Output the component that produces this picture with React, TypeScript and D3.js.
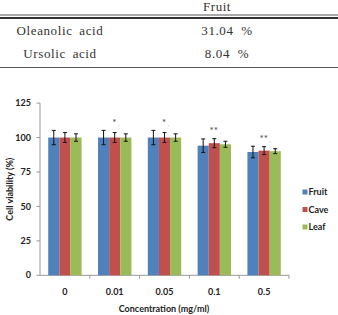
import React, { useEffect, useRef } from "react";
import * as d3 from "d3";

// compound content (fruit)
const compounds = ["Oleanolic acid", "Ursolic acid"];
const contents = ["31.04  %", "8.04  %"];

// cell viability by extract concentration
const concentrations = ["0", "0.01", "0.05", "0.1", "0.5"];
const parts = ["Fruit", "Cave", "Leaf"];
const fruitMean = [100, 100, 100, 94.1, 89.5];
const caveMean = [100, 100, 100, 95.9, 90.5];
const leafMean = [100, 100, 100, 95.1, 90.1];
const fruitErr = [5.2, 5.2, 5.2, 4.9, 4.2];
const caveErr = [3.6, 3.6, 3.6, 3.3, 2.9];
const leafErr = [2.7, 2.7, 2.7, 2.2, 1.8];
const stars = ["", "*", "*", "**", "**"];
const yTicks = [0, 25, 50, 75, 100, 125];
const colors = ["#4f81bd", "#c0504d", "#9bbb59"];

const App = () => {
  const ref = useRef<SVGSVGElement>(null);

  useEffect(() => {
    const svg = d3.select(ref.current);
    svg.selectAll("*").remove();

    // ---- table ----
    const serif = "'Liberation Serif', 'DejaVu Serif', serif";
    const tbl = svg.append("g").attr("font-family", serif).attr("fill", "#333").attr("font-size", 13);
    tbl.append("text").attr("x", 217).attr("y", 10.5).attr("text-anchor", "middle").attr("letter-spacing", 0.5).text("Fruit");
    tbl.append("line").attr("x1", 0).attr("x2", 338).attr("y1", 15).attr("y2", 15).attr("stroke", "#555").attr("stroke-width", 1);
    tbl.append("line").attr("x1", 0).attr("x2", 338).attr("y1", 18).attr("y2", 18).attr("stroke", "#333").attr("stroke-width", 2);
    tbl.append("line").attr("x1", 0).attr("x2", 338).attr("y1", 67.5).attr("y2", 67.5).attr("stroke", "#555").attr("stroke-width", 1);
    const rowY = [35, 58];
    compounds.forEach((c, i) => {
      tbl.append("text").attr("x", 60).attr("y", rowY[i]).attr("text-anchor", "middle")
        .attr("letter-spacing", 0.6).attr("word-spacing", 3).text(c);
      tbl.append("text").attr("x", 227).attr("y", rowY[i]).attr("text-anchor", "middle")
        .attr("letter-spacing", 0.6).style("white-space", "pre").text(contents[i]);
    });

    // ---- bar chart ----
    const sans = "Lato, 'Open Sans', sans-serif";
    const fs = 9;
    const left = 40, right = 289, top = 103.1, bottom = 275.3;
    const means = [fruitMean, caveMean, leafMean];
    const errs = [fruitErr, caveErr, leafErr];

    const x0 = d3.scaleBand().domain(concentrations).range([left, right]).paddingInner(0.33).paddingOuter(0.165);
    const x1 = d3.scaleBand().domain(parts).range([0, x0.bandwidth()]).padding(0);
    const y = d3.scaleLinear().domain([0, 125]).range([bottom, top]);

    const g = svg.append("g").attr("font-family", sans).attr("font-weight", "bold").attr("fill", "#222");

    // axes
    g.append("line").attr("x1", left).attr("x2", left).attr("y1", top).attr("y2", bottom).attr("stroke", "#999");
    g.append("line").attr("x1", left).attr("x2", right).attr("y1", bottom).attr("y2", bottom).attr("stroke", "#999");
    yTicks.forEach((t) => {
      g.append("line").attr("x1", left - 3.5).attr("x2", left).attr("y1", y(t)).attr("y2", y(t)).attr("stroke", "#999");
      g.append("text").attr("x", 31).attr("y", y(t)).attr("dy", "0.35em").attr("text-anchor", "end")
        .attr("font-size", fs).text(t);
    });
    const step = x0.step();
    concentrations.forEach((c) => {
      const xb = (x0(c) as number) + x0.bandwidth() / 2 + step / 2;
      g.append("line").attr("x1", xb).attr("x2", xb).attr("y1", bottom).attr("y2", bottom + 3.5).attr("stroke", "#999");
      g.append("text").attr("x", (x0(c) as number) + x0.bandwidth() / 2).attr("y", 294.5)
        .attr("text-anchor", "middle").attr("font-size", fs).text(c);
    });

    // bars and error bars
    parts.forEach((p, si) => {
      concentrations.forEach((c, ci) => {
        const bx = (x0(c) as number) + (x1(p) as number);
        const v = means[si][ci];
        g.append("rect").attr("x", bx).attr("y", y(v)).attr("width", x1.bandwidth())
          .attr("height", bottom - y(v)).attr("fill", colors[si]);
        const cx = bx + x1.bandwidth() / 2;
        const e = errs[si][ci];
        const eb = g.append("g").attr("stroke", "#111").attr("stroke-width", 1);
        eb.append("line").attr("x1", cx).attr("x2", cx).attr("y1", y(v + e)).attr("y2", y(v - e));
        eb.append("line").attr("x1", cx - 2).attr("x2", cx + 2).attr("y1", y(v + e)).attr("y2", y(v + e));
        eb.append("line").attr("x1", cx - 2).attr("x2", cx + 2).attr("y1", y(v - e)).attr("y2", y(v - e));
      });
    });

    // significance marks
    concentrations.forEach((c, ci) => {
      if (!stars[ci]) return;
      const topErr = d3.max(parts.map((_, si) => means[si][ci] + errs[si][ci])) as number;
      const t = g.append("text").attr("x", (x0(c) as number) + x0.bandwidth() / 2 + 1).attr("y", y(topErr) - 4.5)
        .attr("text-anchor", "middle").attr("font-size", 10).attr("font-weight", "normal").attr("fill", "#444");
      t.append("tspan").text(stars[ci]);
      t.append("tspan").attr("font-size", 6).attr("fill", "#aaa").attr("dx", 1.5).text(",");
    });

    // axis titles
    g.append("text").attr("transform", `translate(12.5,${(top + bottom) / 2}) rotate(-90)`)
      .attr("text-anchor", "middle").attr("font-size", fs).text("Cell viability (%)");
    g.append("text").attr("x", 164).attr("y", 312).attr("text-anchor", "middle")
      .attr("font-size", fs).text("Concentration (mg/ml)");

    // legend
    const legY = [192, 209.5, 227];
    parts.forEach((p, i) => {
      g.append("rect").attr("x", 302.5).attr("y", legY[i] - 2.5).attr("width", 5).attr("height", 5).attr("fill", colors[i]);
      g.append("text").attr("x", 308.5).attr("y", legY[i]).attr("dy", "0.35em").attr("font-size", fs).text(p);
    });
  }, []);

  return (
    <svg ref={ref} width={338} height={315}
      style={{ position: "absolute", left: 0, top: 0, background: "#fff" }} />
  );
};

export default App;
